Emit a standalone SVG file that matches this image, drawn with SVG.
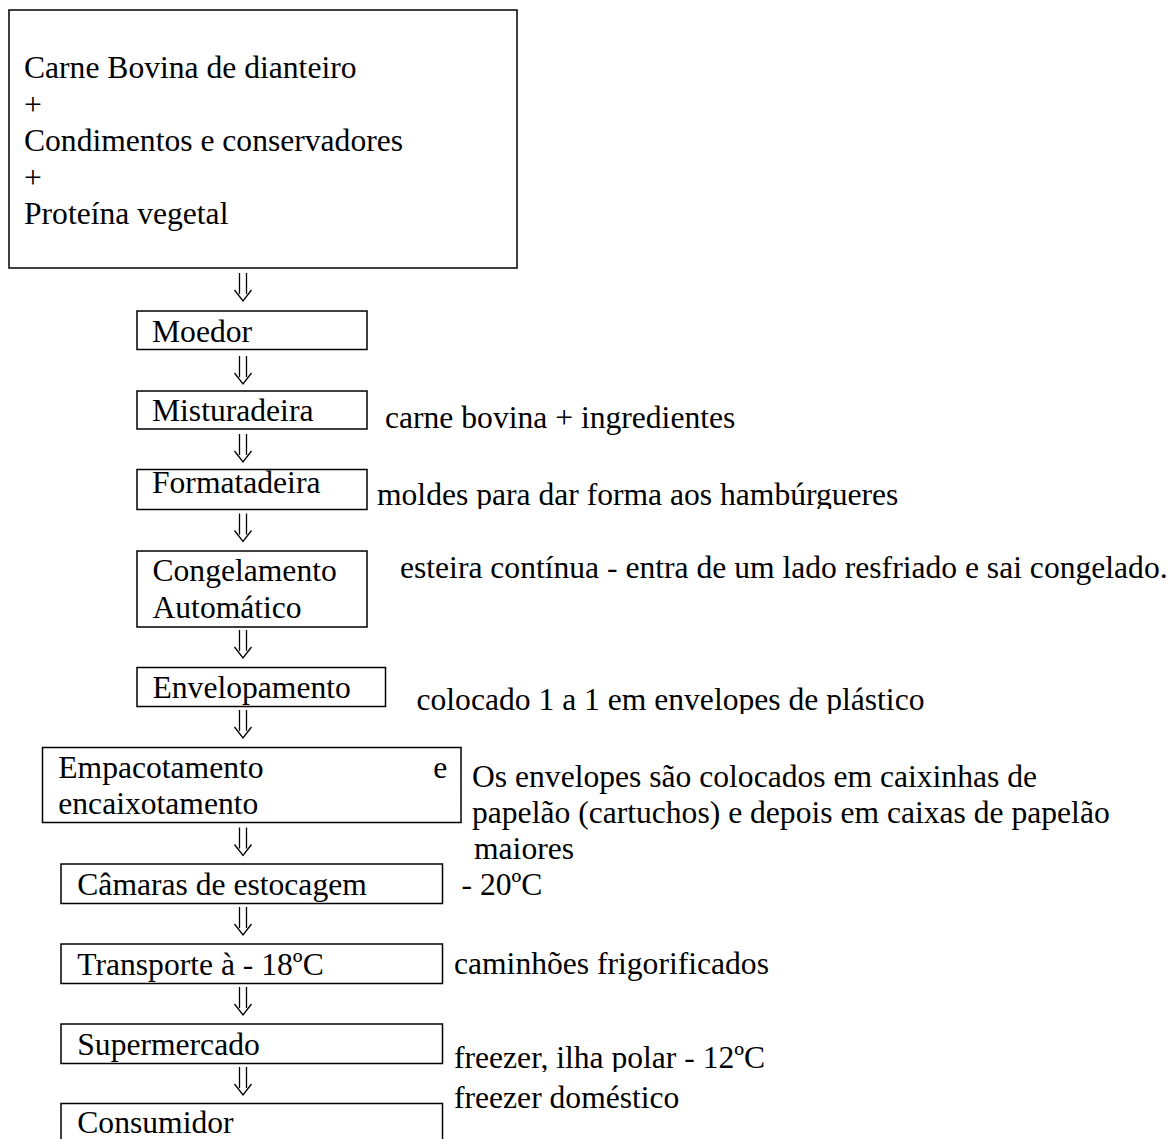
<svg xmlns="http://www.w3.org/2000/svg" width="1175" height="1139" viewBox="0 0 1175 1139">
<style>
  .box { fill: #fff; stroke: #000; stroke-width: 1.5; }
  .t { font-family: "Liberation Serif", "Times New Roman", serif; font-size: 31.6px; fill: #000; }
  .arr { fill: none; stroke: #000; stroke-width: 1.3; }
</style>
<defs>
  <clipPath id="clipMoldes"><rect x="360" y="470" width="600" height="39"/></clipPath>
  <clipPath id="clipColocado"><rect x="400" y="670" width="600" height="44"/></clipPath>
  <clipPath id="clipFreezer"><rect x="440" y="1030" width="400" height="42"/></clipPath>
  <path id="dar" d="M-3.5 0 V21 M3.5 0 V21 M-8.5 17 L0 28 L8.5 17"/>
</defs>
<rect width="1175" height="1139" fill="#fff"/>

<g id="n-inicio">
  <rect class="box" x="9" y="10" width="508" height="258"/>
  <text class="t" x="24" y="78">Carne Bovina de dianteiro</text>
  <text class="t" x="24" y="114.5">+</text>
  <text class="t" x="24" y="151">Condimentos e conservadores</text>
  <text class="t" x="24" y="187.5">+</text>
  <text class="t" x="24" y="224">Proteína vegetal</text>
</g>

<g id="n-moedor">
  <rect class="box" x="137" y="311" width="230" height="38.5"/>
  <text class="t" x="152" y="342">Moedor</text>
</g>

<g id="n-misturadeira">
  <rect class="box" x="137" y="391" width="230" height="38"/>
  <text class="t" x="152" y="421">Misturadeira</text>
  <text class="t" x="385" y="428">carne bovina + ingredientes</text>
</g>

<g id="n-formatadeira">
  <rect class="box" x="137" y="469.5" width="230" height="40"/>
  <text class="t" x="152" y="493">Formatadeira</text>
  <text class="t" x="377" y="505" clip-path="url(#clipMoldes)">moldes para dar forma aos hambúrgueres</text>
</g>

<g id="n-congelamento">
  <rect class="box" x="137" y="551" width="230" height="76"/>
  <text class="t" x="152.5" y="581">Congelamento</text>
  <text class="t" x="152.5" y="618">Automático</text>
  <text class="t" x="400" y="578">esteira contínua - entra de um lado resfriado e sai congelado.</text>
</g>

<g id="n-envelopamento">
  <rect class="box" x="137" y="667.5" width="248.5" height="39"/>
  <text class="t" x="152.5" y="697.5">Envelopamento</text>
  <text class="t" x="416.5" y="710" clip-path="url(#clipColocado)">colocado 1 a 1 em envelopes de plástico</text>
</g>

<g id="n-empacotamento">
  <rect class="box" x="42.5" y="747.5" width="418.5" height="75"/>
  <text class="t" x="58.3" y="777.5">Empacotamento</text>
  <text class="t" x="433.3" y="777.5">e</text>
  <text class="t" x="58.3" y="814">encaixotamento</text>
  <text class="t" x="472" y="787">Os envelopes são colocados em caixinhas de</text>
  <text class="t" x="472" y="823">papelão (cartuchos) e depois em caixas de papelão</text>
  <text class="t" x="474" y="859">maiores</text>
</g>

<g id="n-camaras">
  <rect class="box" x="61" y="864" width="381.5" height="39.5"/>
  <text class="t" x="77.3" y="894.5">Câmaras de estocagem</text>
  <text class="t" x="461.5" y="895">- 20ºC</text>
</g>

<g id="n-transporte">
  <rect class="box" x="61" y="944" width="381.5" height="39.5"/>
  <text class="t" x="77.3" y="974.5">Transporte à - 18ºC</text>
  <text class="t" x="454" y="974">caminhões frigorificados</text>
</g>

<g id="n-supermercado">
  <rect class="box" x="61" y="1024" width="381.5" height="39.5"/>
  <text class="t" x="77.3" y="1054.5">Supermercado</text>
  <text class="t" x="454" y="1068" clip-path="url(#clipFreezer)">freezer, ilha polar - 12ºC</text>
</g>

<g id="n-consumidor">
  <rect class="box" x="61" y="1103.5" width="381.5" height="60"/>
  <text class="t" x="77.3" y="1133">Consumidor</text>
  <text class="t" x="454" y="1108">freezer doméstico</text>
</g>

<g id="connectors" class="arr">
  <use href="#dar" x="243" y="273"/>
  <use href="#dar" x="243" y="356"/>
  <use href="#dar" x="243" y="434"/>
  <use href="#dar" x="243" y="513.5"/>
  <use href="#dar" x="243" y="630"/>
  <use href="#dar" x="243" y="710"/>
  <use href="#dar" x="243" y="827.5"/>
  <use href="#dar" x="243" y="907"/>
  <use href="#dar" x="243" y="987"/>
  <use href="#dar" x="243" y="1067"/>
</g>
</svg>
